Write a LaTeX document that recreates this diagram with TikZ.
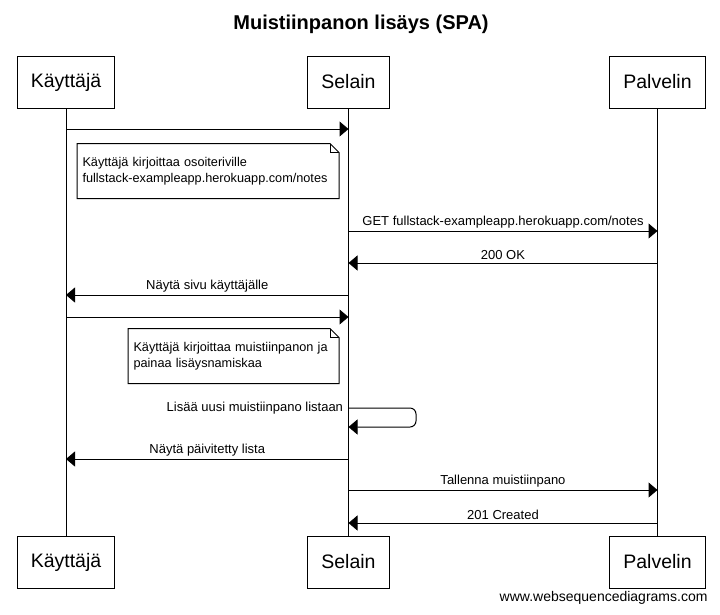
\documentclass[tikz,border=0pt]{standalone}
\usepackage{fontspec}
\setmainfont{Liberation Sans}
\usetikzlibrary{arrows.meta,positioning,calc}

\begin{document}
\begin{tikzpicture}[x=1pt, y=-1pt, line width=1pt,
    actor/.style={draw, minimum height=52pt, inner xsep=13.5pt, font=\fontsize{19.5}{22}\selectfont},
    msg/.style={-{Triangle[length=9pt,width=15pt]}},
    lbl/.style={font=\fontsize{13}{16}\selectfont, inner sep=2.5pt},
    note/.style={font=\fontsize{12.7}{15.5}\selectfont, align=left, minimum height=54pt, inner xsep=5pt, anchor=west}]
    \useasboundingbox (0,0) rectangle (720,614);

    % Title
    \node[font=\bfseries\fontsize{20}{24}\selectfont] (title) at (361,24) {Muistiinpanon lisäys (SPA)};

    % Participants, top and bottom
    \node[actor] (k) at (66,82) {Käyttäjä};
    \node[actor] (s) at (348.5,82) {Selain};
    \node[actor] (p) at (657.5,82) {Palvelin};
    \node[actor] (kb) at (66,562) {Käyttäjä};
    \node[actor] (sb) at (348.5,562) {Selain};
    \node[actor] (pb) at (657.5,562) {Palvelin};

    % Lifelines
    \foreach \a in {k,s,p} {
        \draw (\a) -- (\a b);
    }

    % Messages
    \foreach \y/\from/\to/\txt in {129/k/s/{}, 231/s/p/{GET fullstack-exampleapp.herokuapp.com/notes}, 263/p/s/{200 OK}, 295/s/k/{Näytä sivu käyttäjälle}, 317/k/s/{}, 459/s/k/{Näytä päivitetty lista}, 490/s/p/{Tallenna muistiinpano}, 523/p/s/{201 Created}} {
        \draw[msg] (\from |- 0,\y) -- node[lbl, above] {\txt} (\to |- 0,\y);
    }

    % Self message
    \draw[msg, rounded corners=6pt] (s |- 0,408) -- (416,408) -- (416,427) -- (s |- 0,427);
    \node[lbl, left, inner xsep=5pt] (self) at (s |- 0,408) {Lisää uusi muistiinpano listaan};

    % Notes
    \node[note, text width=251pt] (n1) at (77,171) {Käyttäjä kirjoittaa osoiteriville\\fullstack-exampleapp.herokuapp.com/notes};
    \node[note, text width=200pt] (n2) at (128,356) {Käyttäjä kirjoittaa muistiinpanon ja\\painaa lisäysnamiskaa};
    \foreach \n in {n1,n2} {
        \draw (\n.north west) -- ([xshift=-9pt]\n.north east) -- ([yshift=-9pt]\n.north east) -- (\n.south east) -- (\n.south west) -- cycle;
        \draw[line width=0.6pt] ([xshift=-9pt]\n.north east) |- ([yshift=-9pt]\n.north east);
    }

    % Watermark
    \node[font=\fontsize{14}{16}\selectfont, anchor=east, inner sep=0pt] (wsd) at (708,598) {www.websequencediagrams.com};
\end{tikzpicture}
\end{document}
